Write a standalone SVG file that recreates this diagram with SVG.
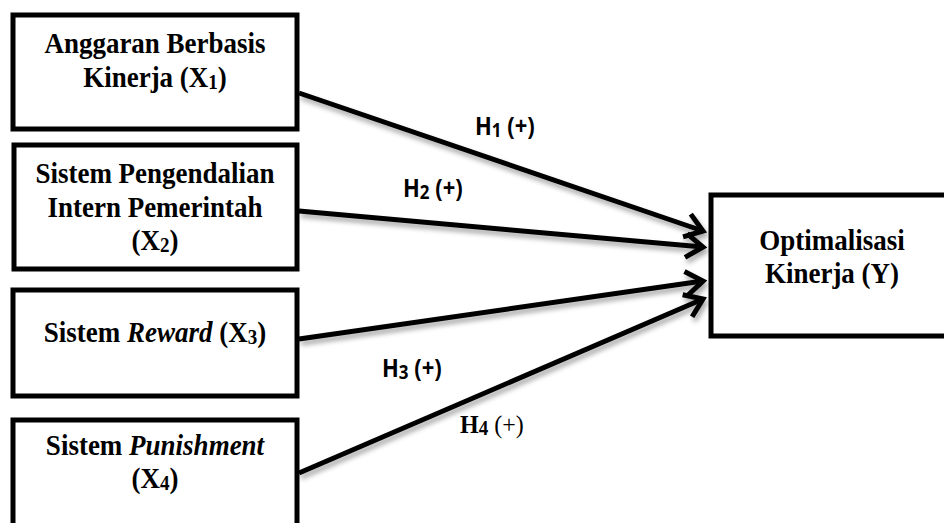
<svg xmlns="http://www.w3.org/2000/svg" width="944" height="523" viewBox="0 0 944 523">
<style>
.box{fill:#fff;stroke:#000;stroke-width:5}
.t{font-family:"Liberation Serif","Times New Roman",serif;font-weight:bold;font-size:27px;fill:#000;text-anchor:middle}
.h{font-family:"Open Sans","Noto Sans",sans-serif;font-weight:bold;font-size:22px;fill:#000}
.h4{font-family:"Liberation Serif","Times New Roman",serif;font-size:24px;fill:#000}
.sub{font-size:19px}
.hs{font-size:17px}
.conn{stroke:#000;stroke-width:5;fill:none}
</style>
<defs>
<marker id="arr" markerUnits="userSpaceOnUse" markerWidth="40" markerHeight="40" viewBox="-30 -20 40 40" refX="0" refY="0" orient="auto">
<path d="M-17,-12 L0,0 L-17,12" fill="none" stroke="#000" stroke-width="5" stroke-linejoin="miter"/>
</marker>
<filter id="sh" x="-10%" y="-20%" width="120%" height="140%">
<feDropShadow dx="2" dy="4" stdDeviation="2.5" flood-color="#000" flood-opacity="0.35"/>
</filter>
</defs>
<rect width="944" height="523" fill="#fff"/>
<g id="connectors" filter="url(#sh)">
<line class="conn" x1="299" y1="93" x2="703" y2="231" marker-end="url(#arr)"/>
<line class="conn" x1="299" y1="211" x2="703" y2="247" marker-end="url(#arr)"/>
<line class="conn" x1="299" y1="339" x2="703" y2="281" marker-end="url(#arr)"/>
<line class="conn" x1="299" y1="473" x2="703" y2="299" marker-end="url(#arr)"/>
</g>
<g id="x1">
<rect class="box" x="13" y="15" width="284" height="114"/>
<text class="t" transform="translate(155,53) scale(1,1.08)">Anggaran Berbasis</text>
<text class="t" transform="translate(155,87) scale(1,1.08)">Kinerja (X<tspan class="sub" dy="2">1</tspan><tspan dy="-2">)</tspan></text>
</g>
<g id="x2">
<rect class="box" x="14" y="145" width="283" height="124"/>
<text class="t" transform="translate(155,183) scale(1,1.08)">Sistem Pengendalian</text>
<text class="t" transform="translate(155,217) scale(1,1.08)">Intern Pemerintah</text>
<text class="t" transform="translate(155,250) scale(1,1.08)">(X<tspan class="sub" dy="2">2</tspan><tspan dy="-2">)</tspan></text>
</g>
<g id="x3">
<rect class="box" x="13" y="290" width="284" height="106"/>
<text class="t" transform="translate(155,342) scale(1,1.08)">Sistem <tspan font-style="italic">Reward</tspan> (X<tspan class="sub" dy="2">3</tspan><tspan dy="-2">)</tspan></text>
</g>
<g id="x4">
<rect class="box" x="13" y="420" width="284" height="115"/>
<text class="t" transform="translate(155,455) scale(1,1.08)">Sistem <tspan font-style="italic">Punishment</tspan></text>
<text class="t" transform="translate(155,488) scale(1,1.08)">(X<tspan class="sub" dy="2">4</tspan><tspan dy="-2">)</tspan></text>
</g>
<g id="y">
<rect class="box" x="711" y="195" width="245" height="141"/>
<text class="t" transform="translate(832,250) scale(1,1.08)">Optimalisasi</text>
<text class="t" transform="translate(832,283) scale(1,1.08)">Kinerja (Y)</text>
</g>
<g id="labels">
<text class="h" transform="translate(475,135) scale(1,1.15)">H<tspan class="hs" dy="2">1</tspan><tspan dy="-2"> (+)</tspan></text>
<text class="h" transform="translate(403,197) scale(1,1.15)">H<tspan class="hs" dy="2">2</tspan><tspan dy="-2"> (+)</tspan></text>
<text class="h" transform="translate(382,377) scale(1,1.15)">H<tspan class="hs" dy="2">3</tspan><tspan dy="-2"> (+)</tspan></text>
<text class="h4" transform="translate(460,433) scale(1,1.05)"><tspan font-weight="bold">H<tspan class="sub" dy="2">4</tspan></tspan><tspan dy="-2"> (+)</tspan></text>
</g>
</svg>
